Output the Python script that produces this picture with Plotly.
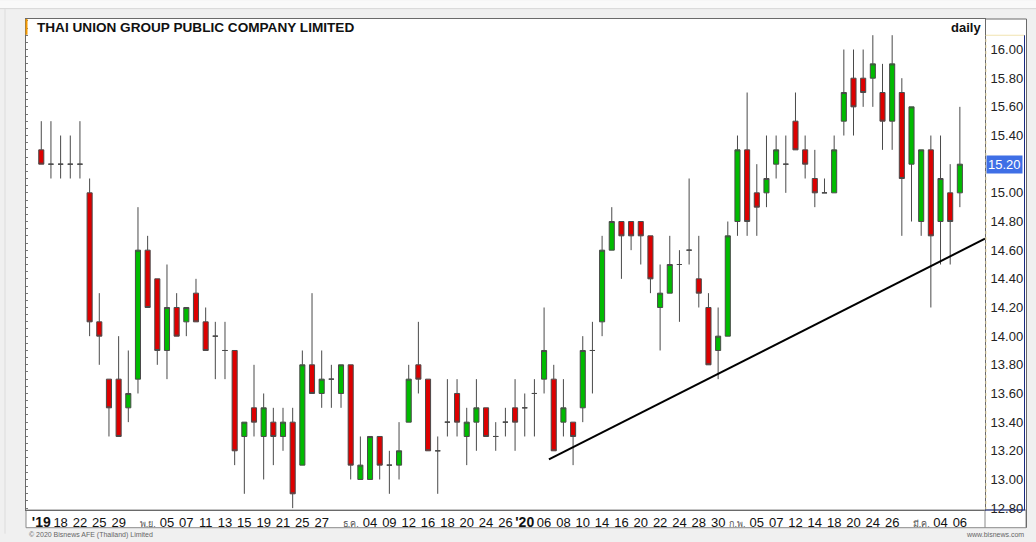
import plotly.graph_objects as go

# ---------------- data (daily candles, Oct 16 2019 - Mar 6 2020) ----------------
opens = [15.3, 15.2, 15.2, 15.2, 15.2, 15.0, 14.1, 13.7, 13.7, 13.5,
         13.7, 14.6, 14.4, 13.9, 14.2, 14.1, 14.3, 14.1, 14.0, 13.9,
         13.9, 13.3, 13.5, 13.3, 13.4, 13.3, 13.4, 13.1, 13.8, 13.6,
         13.7, 13.6, 13.8, 13.0, 13.0, 13.3, 13.1, 13.1, 13.4, 13.8,
         13.7, 13.2, 13.4, 13.6, 13.3, 13.4, 13.5, 13.3, 13.4, 13.5,
         13.5, 13.6, 13.7, 13.7, 13.4, 13.4, 13.5, 13.9, 14.1, 14.6,
         14.8, 14.8, 14.8, 14.7, 14.2, 14.3, 14.5, 14.6, 14.4, 14.2,
         13.9, 14.0, 14.8, 15.3, 15.0, 15.0, 15.2, 15.2, 15.5, 15.3,
         15.1, 15.0, 15.0, 15.5, 15.8, 15.8, 15.8, 15.7, 15.5, 15.7,
         15.2, 14.8, 15.3, 14.8, 15.0, 15.0]
highs = [15.5, 15.5, 15.4, 15.4, 15.5, 15.1, 14.3, 13.7, 14.0, 13.9,
         14.9, 14.7, 14.4, 14.5, 14.3, 14.2, 14.4, 14.2, 14.1, 14.1,
         13.9, 13.4, 13.8, 13.6, 13.5, 13.5, 13.5, 13.9, 14.3, 13.9,
         13.8, 13.8, 13.8, 13.3, 13.3, 13.3, 13.2, 13.4, 13.8, 14.1,
         13.7, 13.3, 13.7, 13.7, 13.5, 13.7, 13.5, 13.4, 13.5, 13.7,
         13.6, 13.7, 14.2, 13.8, 13.7, 13.4, 14.0, 14.1, 14.7, 14.9,
         14.8, 14.8, 14.8, 14.7, 14.5, 14.7, 14.6, 15.1, 14.7, 14.3,
         14.2, 14.8, 15.4, 15.7, 15.2, 15.4, 15.4, 15.4, 15.7, 15.4,
         15.3, 15.1, 15.4, 16.0, 16.0, 16.0, 16.1, 15.9, 16.1, 15.8,
         15.6, 15.3, 15.4, 15.4, 15.2, 15.6]
lows = [15.2, 15.1, 15.1, 15.1, 15.1, 14.0, 13.8, 13.3, 13.3, 13.4,
        13.6, 14.2, 13.8, 13.7, 14.0, 14.0, 14.1, 13.9, 13.7, 13.7,
        13.1, 12.9, 13.3, 13.0, 13.1, 13.2, 12.8, 13.1, 13.6, 13.5,
        13.5, 13.5, 13.0, 13.0, 13.0, 13.0, 12.9, 13.0, 13.4, 13.6,
        13.2, 12.9, 13.3, 13.3, 13.1, 13.2, 13.3, 13.2, 13.3, 13.2,
        13.3, 13.3, 13.6, 13.2, 13.3, 13.1, 13.4, 13.6, 14.0, 14.6,
        14.4, 14.6, 14.5, 14.3, 13.9, 14.3, 14.1, 14.5, 14.2, 13.8,
        13.7, 14.0, 14.7, 14.7, 14.7, 14.9, 15.1, 15.0, 15.3, 15.1,
        14.9, 15.0, 15.0, 15.4, 15.4, 15.6, 15.6, 15.3, 15.3, 14.7,
        14.8, 14.7, 14.2, 14.5, 14.5, 14.9]
closes = [15.2, 15.2, 15.2, 15.2, 15.2, 14.1, 14.0, 13.5, 13.3, 13.6,
          14.6, 14.2, 13.9, 14.2, 14.0, 14.2, 14.1, 13.9, 14.0, 13.9,
          13.2, 13.4, 13.4, 13.5, 13.3, 13.4, 12.9, 13.8, 13.6, 13.7,
          13.7, 13.8, 13.1, 13.1, 13.3, 13.1, 13.1, 13.2, 13.7, 13.7,
          13.2, 13.2, 13.4, 13.4, 13.4, 13.5, 13.3, 13.3, 13.4, 13.4,
          13.5, 13.6, 13.9, 13.2, 13.5, 13.3, 13.9, 13.9, 14.6, 14.8,
          14.7, 14.7, 14.7, 14.4, 14.3, 14.5, 14.5, 14.6, 14.3, 13.8,
          14.0, 14.7, 15.3, 14.8, 14.9, 15.1, 15.3, 15.2, 15.3, 15.2,
          15.0, 15.0, 15.3, 15.7, 15.6, 15.7, 15.9, 15.5, 15.9, 15.1,
          15.6, 15.3, 14.7, 15.1, 14.8, 15.2]

# x-axis tick labels: (candle index, label)
tick_idx = [0, 2, 4, 6, 8, 11, 13, 15, 17, 19, 21, 23, 25, 27, 29, 32, 34, 36, 38,
            40, 42, 44, 46, 48, 50, 52, 54, 56, 58, 60, 62, 64, 66, 68, 70, 72, 74,
            76, 78, 80, 82, 84, 86, 88, 91, 93, 95]
tick_lbl = ["'19", "18", "22", "25", "29", "พ.ย.", "05", "07", "11", "13", "15", "19",
            "21", "25", "27", "ธ.ค.", "04", "09", "12", "16", "18", "20", "24", "26",
            "'20", "06", "08", "10", "14", "16", "20", "22", "24", "28", "30", "ก.พ.",
            "05", "07", "12", "14", "18", "20", "24", "26", "มี.ค.", "04", "06"]
year_labels = {"'19", "'20"}
month_labels = {"พ.ย.", "ธ.ค.", "ก.พ.", "มี.ค."}

price_ticks = [12.8, 13.0, 13.2, 13.4, 13.6, 13.8, 14.0, 14.2, 14.4, 14.6, 14.8,
               15.0, 15.2, 15.4, 15.6, 15.8, 16.0]
last_price = 15.20

# support trend line (candle index, price)
trend_x = [52.5, 97.6]
trend_y = [13.14, 14.68]

# ---------------- figure ----------------
W, H = 1036, 542
L, R, T, B = 26, 51, 19, 24
PX0, PX1, PY0, PY1 = L, W - R, T, H - B   # plot area in pixels


def xp(px):
    return (px - PX0) / (PX1 - PX0)


def yp(py):
    return (PY1 - py) / (PY1 - PY0)


FONT = "Liberation Sans, Arial, Helvetica, sans-serif"
x = list(range(len(opens)))

ticktext = []
for t in tick_lbl:
    if t in year_labels:
        ticktext.append('<b><span style="font-size:14px">%s</span></b>' % t)
    elif t in month_labels:
        ticktext.append('<span style="font-size:9px;color:#555">%s</span>' % t)
    else:
        ticktext.append(t)

# the last-price badge sits over its own tick, so that tick's label is left blank
price_text = ["" if abs(v - last_price) < 1e-9 else "%.2f" % v for v in price_ticks]

fig = go.Figure()
fig.add_trace(go.Candlestick(
    x=x, open=opens, high=highs, low=lows, close=closes,
    increasing=dict(line=dict(color="#4a4a4a", width=1), fillcolor="#00bb00"),
    decreasing=dict(line=dict(color="#4a4a4a", width=1), fillcolor="#dd0000"),
    whiskerwidth=0, showlegend=False, hoverinfo="skip",
))
fig.add_trace(go.Scatter(
    x=trend_x, y=trend_y, mode="lines",
    line=dict(color="#000000", width=2), showlegend=False, hoverinfo="skip",
))
fig.add_trace(go.Scatter(x=[None], y=[None], yaxis="y2", showlegend=False, hoverinfo="skip"))

yrange = [12.787, 16.213]
xrange_ = [-1.58, 97.6]

shapes = []
# top light strip + separating line
shapes.append(dict(type="rect", xref="paper", yref="paper", x0=xp(0), x1=xp(W),
                   y0=yp(8), y1=yp(0), fillcolor="#f9f9f9", line=dict(width=0), layer="below"))
shapes.append(dict(type="line", xref="paper", yref="paper", x0=xp(0), x1=xp(W),
                   y0=yp(8.5), y1=yp(8.5), line=dict(color="#d6d6d6", width=1), layer="below"))
# outer panel left line
shapes.append(dict(type="line", xref="paper", yref="paper", x0=xp(5), x1=xp(5),
                   y0=yp(9), y1=yp(H), line=dict(color="#dcdcdc", width=1), layer="below"))
# right axis area (white)
shapes.append(dict(type="rect", xref="paper", yref="paper", x0=xp(985), x1=xp(1026),
                   y0=yp(518), y1=yp(19), fillcolor="#ffffff", line=dict(width=0), layer="below"))
# bottom label strip (white)
shapes.append(dict(type="rect", xref="paper", yref="paper", x0=xp(26), x1=xp(1026),
                   y0=yp(536), y1=yp(518), fillcolor="#ffffff",
                   line=dict(color="#8a8a8a", width=1), layer="below"))
# frame top extension, right border
shapes.append(dict(type="line", xref="paper", yref="paper", x0=xp(985), x1=xp(1026.5),
                   y0=yp(19), y1=yp(19), line=dict(color="#6a6a6a", width=1)))
shapes.append(dict(type="line", xref="paper", yref="paper", x0=xp(1026.5), x1=xp(1026.5),
                   y0=yp(536), y1=yp(19), line=dict(color="#6a6a6a", width=1)))
# divider in the label strip
shapes.append(dict(type="line", xref="paper", yref="paper", x0=xp(985), x1=xp(985),
                   y0=yp(536), y1=yp(518), line=dict(color="#8a8a8a", width=1)))
# axis box: yellow top/left, navy right/bottom
shapes.append(dict(type="line", xref="paper", yref="paper", x0=xp(986), x1=xp(1024),
                   y0=yp(35.5), y1=yp(35.5), line=dict(color="#f1e3b0", width=1)))
shapes.append(dict(type="line", xref="paper", yref="paper", x0=xp(986), x1=xp(986),
                   y0=yp(518), y1=yp(35.5), line=dict(color="#efdfa8", width=1, dash="dot")))
shapes.append(dict(type="line", xref="paper", yref="paper", x0=xp(1024.5), x1=xp(1024.5),
                   y0=yp(518), y1=yp(35.5), line=dict(color="#1a2a80", width=1)))
shapes.append(dict(type="line", xref="paper", yref="paper", x0=xp(985), x1=xp(1025),
                   y0=yp(518), y1=yp(518), line=dict(color="#1a2a80", width=1)))
# orange marker at top-left of plot frame
shapes.append(dict(type="line", xref="paper", yref="paper", x0=xp(26.5), x1=xp(26.5),
                   y0=yp(35), y1=yp(19), line=dict(color="#f59a00", width=2)))

annotations = [
    dict(xref="paper", yref="paper", x=xp(35), y=yp(27.5), xanchor="left", yanchor="middle",
         text="<b>THAI UNION GROUP PUBLIC COMPANY LIMITED</b>", showarrow=False,
         font=dict(family=FONT, size=13.6, color="#111111")),
    dict(xref="paper", yref="paper", x=xp(983), y=yp(27.5), xanchor="right", yanchor="middle",
         text="<b>daily</b>", showarrow=False, font=dict(family=FONT, size=13, color="#111111")),
    dict(xref="paper", yref="y", x=xp(986), y=last_price, xanchor="left", yanchor="middle",
         text="%.2f" % last_price, showarrow=False, bgcolor="#3f6fe6", borderpad=1,
         font=dict(family=FONT, size=13, color="#ffffff")),
    dict(xref="paper", yref="paper", x=xp(27), y=yp(537), xanchor="left", yanchor="top",
         text="© 2020 Bisnews AFE (Thailand) Limited", showarrow=False,
         font=dict(family=FONT, size=7, color="#666666")),
    dict(xref="paper", yref="paper", x=xp(1026), y=yp(537), xanchor="right", yanchor="top",
         text="www.bisnews.com", showarrow=False,
         font=dict(family=FONT, size=7, color="#666666")),
]

fig.update_layout(
    width=W, height=H,
    margin=dict(l=L, r=R, t=T, b=B, pad=0),
    paper_bgcolor="#f0f0f0", plot_bgcolor="#ffffff",
    boxgap=0.25,
    showlegend=False,
    font=dict(family=FONT, size=13, color="#111111"),
    xaxis=dict(
        range=xrange_, tickmode="array", tickvals=tick_idx, ticktext=ticktext,
        showgrid=False, zeroline=False, showline=True, linecolor="#6a6a6a", linewidth=1,
        mirror=True, ticks="", rangeslider=dict(visible=False),
        tickfont=dict(family=FONT, size=13, color="#111111"),
    ),
    yaxis=dict(
        side="right", range=yrange, tickmode="array", tickvals=price_ticks,
        ticktext=price_text,
        showgrid=False, zeroline=False, showline=True, linecolor="#6a6a6a", linewidth=1,
        mirror=True, ticks="", ticklabelstandoff=2,
        tickfont=dict(family=FONT, size=13, color="#222222"),
    ),
    yaxis2=dict(
        overlaying="y", side="left", range=yrange, dtick=0.05, tick0=12.8,
        showticklabels=False, ticks="inside", ticklen=2, tickcolor="#777777",
        showgrid=False, zeroline=False, showline=False,
    ),
    shapes=shapes,
    annotations=annotations,
)

fig.write_html("out.html")
